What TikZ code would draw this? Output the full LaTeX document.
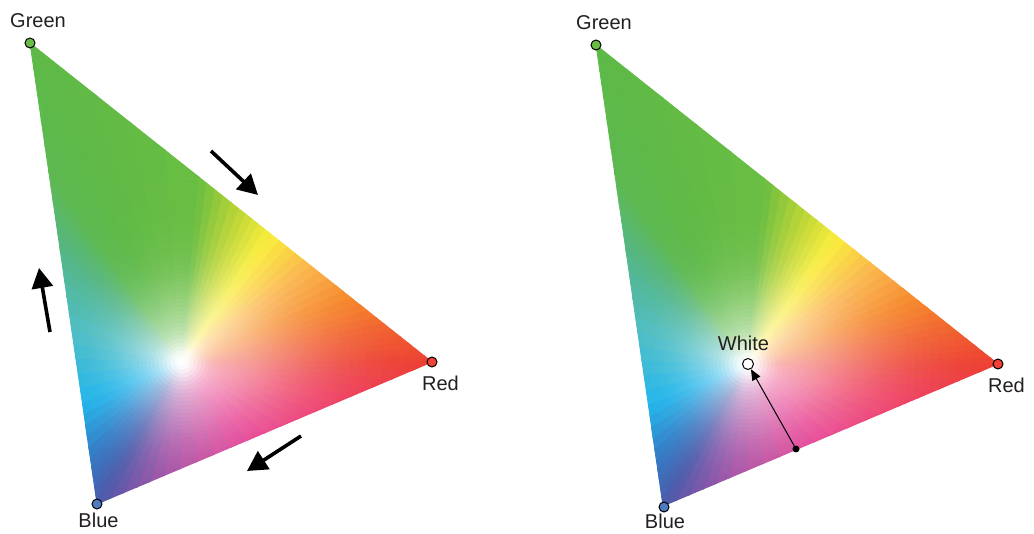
\documentclass[tikz,border=0pt]{standalone}
\usepackage{fontspec}
\setmainfont{Liberation Sans}
\usetikzlibrary{arrows.meta}
\definecolor{txt}{HTML}{231F20}
\definecolor{gdot}{RGB}{106,189,69}
\definecolor{rdot}{RGB}{239,65,54}
\definecolor{bdot}{RGB}{79,123,192}
\def\myWx{182}\def\myWy{362}
\def\myK{61}\def\myM{5}
% x/y/r/g/b/D  (D = reach of the white glow towards that boundary point)
\def\bpts{30/43/93/185/71/68, 198.8/177/105/189/66/72, 239/208.9/185/212/50/85, 271.2/234.4/249/237/50/95, 311.4/266.3/250/176/64/105, 351.6/298.2/245/130/32/115, 391.8/330.1/240/90/40/125, 432/362/236/60/45/135, 331.5/404.6/237/55/95/110, 247.75/440.1/230/60/145/75, 164/475.6/160/80/165/72, 97/504/75/90/170/72, 90.3/457.9/50/120/195/68, 82.3/402.6/30/180/235/58, 71.5/328.8/75/188/195/64, 60.2/250.4/85/182/135/66, 48.8/172.1/93/185/80/68, 30/43/93/185/71/68}
\newcommand\mysector{%
  \foreach \j in {1,...,\myM}{%
    \pgfmathsetmacro\myta{(\j-1)/\myM}%
    \pgfmathsetmacro\mytb{\j/\myM}%
    \pgfmathsetmacro\mytm{(\j-0.5)/\myM}%
    \pgfmathsetmacro\myPax{\sAx+\myta*(\sBx-\sAx)-\myWx}%
    \pgfmathsetmacro\myPay{\sAy+\myta*(\sBy-\sAy)-\myWy}%
    \pgfmathsetmacro\myPbx{\sAx+\mytb*(\sBx-\sAx)-\myWx}%
    \pgfmathsetmacro\myPby{\sAy+\mytb*(\sBy-\sAy)-\myWy}%
    \pgfmathsetmacro\myLa{veclen(\myPax,\myPay)}%
    \pgfmathsetmacro\myLb{veclen(\myPbx,\myPby)}%
    \pgfmathsetmacro\myUax{\myPax/\myLa}\pgfmathsetmacro\myUay{\myPay/\myLa}%
    \pgfmathsetmacro\myUbx{\myPbx/\myLb}\pgfmathsetmacro\myUby{\myPby/\myLb}%
    \pgfmathsetmacro\myLmax{max(\myLa,\myLb)}%
    \pgfmathsetmacro\mycR{(\sAr+\mytm*(\sBr-\sAr))/255}%
    \pgfmathsetmacro\mycG{(\sAg+\mytm*(\sBg-\sAg))/255}%
    \pgfmathsetmacro\mycB{(\sAb+\mytm*(\sBb-\sAb))/255}%
    \pgfmathsetmacro\myDm{\sAD+\mytm*(\sBD-\sAD)}%
    \foreach \k in {1,...,\myK}{%
      \pgfmathsetmacro\mydA{4*(\k-1)+4*max(\k-41,0)}%
      \pgfmathtruncatemacro\myok{\mydA<\myLmax}%
      \ifnum\myok=1
      \pgfmathsetmacro\mydB{4*\k+4*max(\k-40,0)+(\k>60)*700}%
      \pgfmathsetmacro\mydm{\mydA+2+2*(\k>40)}%
      \pgfmathsetmacro\myq{\mydm/\myDm}%
      \pgfmathsetmacro\myp{\mydm/20}%
      \pgfmathsetmacro\myw{0.35*exp(-min(\myp*\myp,9))+0.65*exp(-min(\myq*\myq,9))}%
      \pgfmathsetmacro\myfr{\mycR+\myw*(1-\mycR)}%
      \pgfmathsetmacro\myfg{\mycG+\myw*(1-\mycG)}%
      \pgfmathsetmacro\myfb{\mycB+\myw*(1-\mycB)}%
      \definecolor{cc}{rgb}{\myfr,\myfg,\myfb}%
      \pgfmathsetmacro\myra{min(\mydA,\myLa)}\pgfmathsetmacro\myrb{min(\mydB,\myLa)}%
      \pgfmathsetmacro\myrc{min(\mydB,\myLb)}\pgfmathsetmacro\myrd{min(\mydA,\myLb)}%
      \pgfmathsetmacro\xA{\myWx+\myra*\myUax}\pgfmathsetmacro\yA{\myWy+\myra*\myUay}%
      \pgfmathsetmacro\xB{\myWx+\myrb*\myUax}\pgfmathsetmacro\yB{\myWy+\myrb*\myUay}%
      \pgfmathsetmacro\xC{\myWx+\myrc*\myUbx}\pgfmathsetmacro\yC{\myWy+\myrc*\myUby}%
      \pgfmathsetmacro\xD{\myWx+\myrd*\myUbx}\pgfmathsetmacro\yD{\myWy+\myrd*\myUby}%
      \filldraw[cell] (\xA,\yA)--(\xB,\yB)--(\xC,\yC)--(\xD,\yD)--cycle;
      \filldraw[cell,shift={(566,2)}] (\xA,\yA)--(\xB,\yB)--(\xC,\yC)--(\xD,\yD)--cycle;
      \fi
    }%
  }%
}
\begin{document}
\begin{tikzpicture}[x=1pt,y=-1pt,
  cell/.style={fill=cc,draw=cc,line width=0.8pt,line join=round},
  dotv/.style={circle,draw=black,line width=1pt,minimum size=10pt,inner sep=0pt},
  lab/.style={font=\fontsize{20}{24}\selectfont,text=txt,anchor=base,inner sep=0pt},
  bigarrow/.style={line width=3.6pt,-{Triangle[length=20pt,width=21pt]}},
  smallarrow/.style={line width=1pt,-{Triangle[length=11pt,width=9pt]}}]
\useasboundingbox (0,0) rectangle (1034,534);
% gradient triangles
\gdef\myfirst{1}
\foreach \vX/\vY/\vR/\vG/\vB/\vD in \bpts {%
  \ifnum\myfirst=0
    \let\sAx\pX\let\sAy\pY\let\sAr\pR\let\sAg\pG\let\sAb\pB\let\sAD\pD
    \let\sBx\vX\let\sBy\vY\let\sBr\vR\let\sBg\vG\let\sBb\vB\let\sBD\vD
    \mysector
  \fi
  \xdef\pX{\vX}\xdef\pY{\vY}\xdef\pR{\vR}\xdef\pG{\vG}\xdef\pB{\vB}\xdef\pD{\vD}%
  \gdef\myfirst{0}%
}
% left triangle
\node[dotv,fill=gdot] (G1) at (30,43) {};
\node[dotv,fill=rdot] (R1) at (432,362) {};
\node[dotv,fill=bdot] (B1) at (97,504) {};
\node[lab] (lG1) at (38,28) {Green};
\node[lab] (lR1) at (440.5,391) {Red};
\node[lab] (lB1) at (98.5,527) {Blue};
\coordinate (a1s) at (211,151); \coordinate (a1e) at (258,195);
\coordinate (a2s) at (301,436); \coordinate (a2e) at (247,471);
\coordinate (a3s) at (50,332);  \coordinate (a3e) at (39,268);
\draw[bigarrow] (a1s) -- (a1e);
\draw[bigarrow] (a2s) -- (a2e);
\draw[bigarrow] (a3s) -- (a3e);
% right triangle
\node[dotv,fill=gdot] (G2) at (596,45) {};
\node[dotv,fill=rdot] (R2) at (998,364) {};
\node[dotv,fill=bdot] (B2) at (664,507) {};
\node[lab] (lG2) at (604,30) {Green};
\node[lab] (lR2) at (1006.5,393) {Red};
\node[lab] (lB2) at (665,529) {Blue};
\node[dotv,fill=white,minimum size=11pt] (W2) at (748,364) {};
\node[lab] (lW2) at (743.5,351) {White};
\node[circle,fill=black,minimum size=7pt,inner sep=0pt] (D2) at (796,449) {};
\draw[smallarrow] (D2) -- (W2);
\end{tikzpicture}
\end{document}
